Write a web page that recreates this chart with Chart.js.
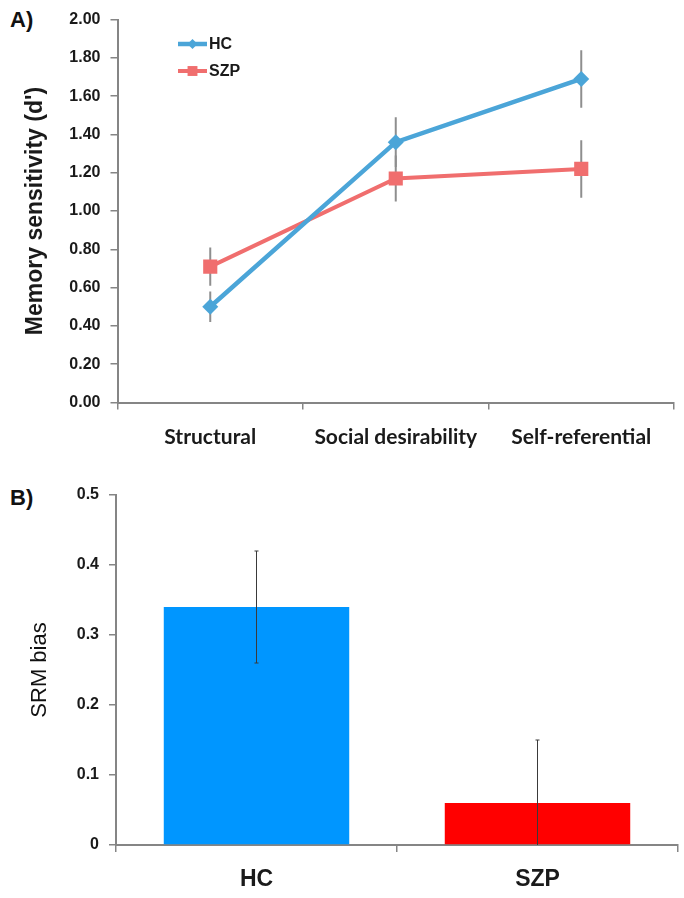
<!DOCTYPE html>
<html>
<head>
<meta charset="utf-8">
<script src="https://cdn.jsdelivr.net/npm/chart.js@4.4.1/dist/chart.umd.min.js"></script>
<style>
    html, body { margin: 0; padding: 0; background: #fff; }
    body { width: 684px; height: 898px; position: relative; overflow: hidden; }
    .panel-tag { position: absolute; left: 10px; font: bold 22px "Liberation Sans", Arial, sans-serif; color: #111; }
    #chartA { position: absolute; left: 0; top: 0; }
    #chartB { position: absolute; left: 0; top: 460px; }
</style>
</head>
<body>
<div class="panel-tag" style="top: 7px;">A)</div>
<div class="panel-tag" style="top: 485px;">B)</div>
<canvas id="chartA" width="684" height="460"></canvas>
<canvas id="chartB" width="684" height="438"></canvas>
<script>
// panel A: memory sensitivity per encoding condition
const categoriesA = ["Structural", "Social desirability", "Self-referential"];
const hcSensitivity = [0.50, 1.36, 1.69];
const szpSensitivity = [0.71, 1.17, 1.22];
const hcSensitivityErr = [0.08, 0.13, 0.15];
const szpSensitivityErr = [0.10, 0.12, 0.15];

// panel B: self-reference memory bias per group
const groupsB = ["HC", "SZP"];
const srmBias = [0.34, 0.06];
const srmBiasErr = [0.08, 0.09];

const HC_LINE = "#4ba5d8";
const SZP_LINE = "#f06e6e";
const HC_BAR = "#0096ff";
const SZP_BAR = "#ff0000";
const AXIS = "#858585";
const TXT = "#1a1a1a";

Chart.defaults.font.family = '"Liberation Sans", Arial, sans-serif';

// vertical error bars drawn from each dataset's "errors" array
const errorBars = {
    id: "errorBars",
    beforeDatasetsDraw(chart, args, opts) {
        if (opts.behind) drawErrors(chart, opts);
    },
    afterDatasetsDraw(chart, args, opts) {
        if (!opts.behind) drawErrors(chart, opts);
    }
};

function drawErrors(chart, opts) {
    const ctx = chart.ctx;
    const yScale = chart.scales.y;
    const area = chart.chartArea;
    ctx.save();
    ctx.beginPath();
    ctx.rect(area.left, area.top - 2, area.right - area.left, area.bottom - area.top + 2);
    ctx.clip();
    ctx.strokeStyle = opts.color;
    ctx.lineWidth = opts.width;
    chart.data.datasets.forEach((ds, d) => {
        if (!ds.errors) return;
        const meta = chart.getDatasetMeta(d);
        meta.data.forEach((el, i) => {
            const v = ds.data[i];
            const e = ds.errors[i];
            const yTop = yScale.getPixelForValue(v + e);
            const yBot = yScale.getPixelForValue(v - e);
            ctx.beginPath();
            ctx.moveTo(el.x, yTop);
            ctx.lineTo(el.x, yBot);
            if (opts.cap) {
                ctx.moveTo(el.x - opts.cap, yTop);
                ctx.lineTo(el.x + opts.cap, yTop);
                ctx.moveTo(el.x - opts.cap, yBot);
                ctx.lineTo(el.x + opts.cap, yBot);
            }
            ctx.stroke();
        });
    });
    ctx.restore();
}

// legend inside the plot area of panel A
const insideLegend = {
    id: "insideLegend",
    afterDraw(chart) {
        const ctx = chart.ctx;
        const x0 = 178, x1 = 207;
        const rows = [44, 71];
        chart.data.datasets.forEach((ds, i) => {
            const y = rows[i];
            ctx.save();
            ctx.strokeStyle = ds.borderColor;
            ctx.lineWidth = ds.borderWidth;
            ctx.beginPath();
            ctx.moveTo(x0, y);
            ctx.lineTo(x1, y);
            ctx.stroke();
            ctx.fillStyle = ds.backgroundColor;
            Chart.helpers.drawPoint(ctx, {
                pointStyle: ds.pointStyle,
                radius: ds.legendRadius,
                rotation: 0,
                borderWidth: 0
            }, (x0 + x1) / 2, y);
            ctx.fillStyle = TXT;
            ctx.font = 'bold 16px "Liberation Sans", Arial, sans-serif';
            ctx.textBaseline = "middle";
            ctx.fillText(ds.label, x1 + 2, y + 1);
            ctx.restore();
        });
    }
};

new Chart(document.getElementById("chartA"), {
    type: "line",
    data: {
        labels: categoriesA,
        datasets: [
            {
                label: "HC",
                data: hcSensitivity,
                errors: hcSensitivityErr,
                borderColor: HC_LINE,
                backgroundColor: HC_LINE,
                borderWidth: 4.5,
                pointStyle: "rectRot",
                pointRadius: 8,
                legendRadius: 5,
                pointBorderWidth: 0
            },
            {
                label: "SZP",
                data: szpSensitivity,
                errors: szpSensitivityErr,
                borderColor: SZP_LINE,
                backgroundColor: SZP_LINE,
                borderWidth: 4,
                pointStyle: "rect",
                pointRadius: 10,
                legendRadius: 7,
                pointBorderWidth: 0
            }
        ]
    },
    options: {
        responsive: false,
        animation: false,
        layout: { padding: { top: 19, right: 6, left: 0, bottom: 0 } },
        plugins: {
            legend: { display: false },
            tooltip: { enabled: false },
            errorBars: { behind: true, color: "#8e8e8e", width: 2, cap: 0 }
        },
        scales: {
            x: {
                offset: true,
                grid: { offset: true, drawOnChartArea: false, tickLength: 7, color: AXIS, lineWidth: 1.5 },
                border: { color: AXIS, width: 2 },
                ticks: { color: TXT, padding: 15, font: { family: "Lato", weight: "bold", size: 21 } },
                afterFit(scale) { scale.height = 57.5; }
            },
            y: {
                min: 0,
                max: 2,
                ticks: {
                    stepSize: 0.2,
                    color: TXT,
                    padding: 10,
                    font: { weight: "bold", size: 16 },
                    callback: v => v.toFixed(2)
                },
                grid: { drawOnChartArea: false, tickLength: 7, color: AXIS, lineWidth: 1.5 },
                border: { color: AXIS, width: 2 },
                title: {
                    display: true,
                    text: "Memory sensitivity (d')",
                    color: TXT,
                    font: { weight: "bold", size: 23 },
                    padding: { top: 22, bottom: 0 }
                },
                afterFit(scale) { scale.width = 117.5; }
            }
        }
    },
    plugins: [errorBars, insideLegend]
});

new Chart(document.getElementById("chartB"), {
    type: "bar",
    data: {
        labels: groupsB,
        datasets: [{
            label: "SRM bias",
            data: srmBias,
            errors: srmBiasErr,
            backgroundColor: [HC_BAR, SZP_BAR],
            borderWidth: 0,
            barPercentage: 0.66,
            categoryPercentage: 1.0
        }]
    },
    options: {
        responsive: false,
        animation: false,
        layout: { padding: { top: 35, right: 6, left: 0, bottom: 0 } },
        plugins: {
            legend: { display: false },
            tooltip: { enabled: false },
            errorBars: { behind: false, color: "#3a3a3a", width: 1, cap: 2 }
        },
        scales: {
            x: {
                grid: { offset: true, drawOnChartArea: false, tickLength: 7, color: AXIS, lineWidth: 1.5 },
                border: { color: AXIS, width: 2 },
                ticks: { color: TXT, padding: 14, font: { weight: "bold", size: 23 } },
                afterFit(scale) { scale.height = 53; }
            },
            y: {
                min: 0,
                max: 0.5,
                ticks: {
                    stepSize: 0.1,
                    color: TXT,
                    padding: 10,
                    font: { weight: "bold", size: 16 },
                    callback: v => (v === 0 ? "0" : v.toFixed(1))
                },
                grid: { drawOnChartArea: false, tickLength: 7, color: AXIS, lineWidth: 1.5 },
                border: { color: AXIS, width: 2 },
                title: {
                    display: true,
                    text: "SRM bias",
                    color: "#111",
                    font: { size: 22 },
                    padding: { top: 27, bottom: 0 }
                },
                afterFit(scale) { scale.width = 116; }
            }
        }
    },
    plugins: [errorBars]
});
</script>
</body>
</html>
